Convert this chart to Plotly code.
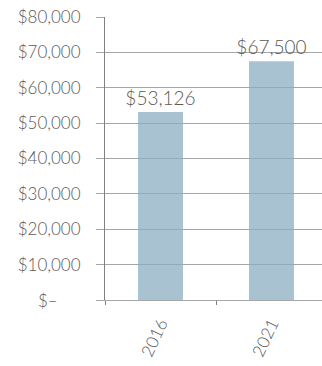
import plotly.graph_objects as go

# Median household income by year
years = ["2016", "2021"]
incomes = [53126, 67500]
value_labels = ["$53,126", "$67,500"]

y_tick_values = [0, 10000, 20000, 30000, 40000, 50000, 60000, 70000, 80000]
y_tick_labels = ["", "$10,000", "$20,000", "$30,000", "$40,000",
                 "$50,000", "$60,000", "$70,000", "$80,000"]
zero_label = "$–"

FONT = "Lato"
TEXT_GREY = "#595959"
GRID_GREY = "#a6a6a6"

fig = go.Figure(
    go.Bar(
        x=years,
        y=incomes,
        width=0.405,
        marker=dict(color="rgba(139,173,193,0.74)", line=dict(width=0)),
        text=value_labels,
        textposition="outside",
        constraintext="none",
        cliponaxis=False,
        textfont=dict(family=FONT, size=19, color=TEXT_GREY, weight=300),
        hoverinfo="skip",
    )
)

# Accounting-style zero label, padded away from the axis like the currency format
fig.add_annotation(
    x=0, xref="paper", xanchor="right", xshift=-45,
    y=y_tick_values[0], yref="y", yanchor="middle",
    text=zero_label, showarrow=False,
    font=dict(family=FONT, size=17, color=TEXT_GREY, weight=300),
)

fig.update_layout(
    width=322,
    height=366,
    margin=dict(l=105, r=0, t=17, b=66),
    paper_bgcolor="white",
    plot_bgcolor="white",
    showlegend=False,
    font=dict(family=FONT, color=TEXT_GREY, weight=300),
)

fig.update_xaxes(
    type="category",
    range=[-0.5, 1.5 - 5 / 111],
    showgrid=False,
    showline=True,
    linecolor=GRID_GREY,
    linewidth=1,
    ticks="outside",
    tickson="boundaries",
    ticklen=4,
    tickcolor="#808080",
    tickangle=-65,
    ticklabelstandoff=6,
    tickfont=dict(family=FONT, size=17, color=TEXT_GREY, weight=300),
)

fig.update_yaxes(
    range=[0, 80000],
    tickvals=y_tick_values,
    ticktext=y_tick_labels,
    showgrid=True,
    gridcolor=GRID_GREY,
    gridwidth=1,
    zeroline=False,
    showline=True,
    linecolor="#808080",
    linewidth=1,
    ticks="outside",
    ticklen=8,
    tickcolor=GRID_GREY,
    ticklabelstandoff=12,
    tickfont=dict(family=FONT, size=17, color=TEXT_GREY, weight=300),
)

fig.write_html("out.html")
